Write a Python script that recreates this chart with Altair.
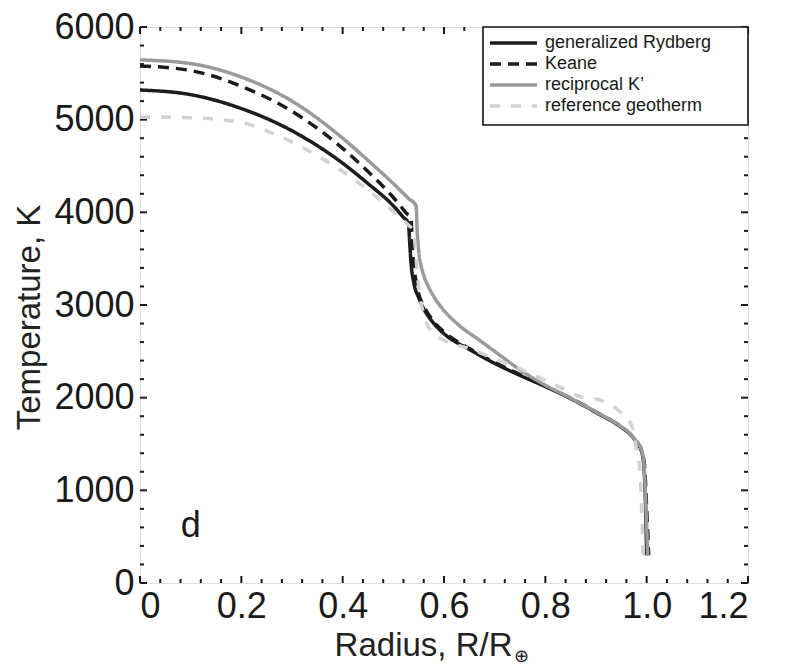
import altair as alt
import pandas as pd

FONT = "Liberation Sans"

series_names = ["generalized Rydberg", "Keane", "reciprocal K\u2019", "reference geotherm"]
series_colors = ["#1c1c1c", "#1c1c1c", "#9a9a9a", "#d2d2d2"]
series_dashes = [[1, 0], [11, 7], [1, 0], [10, 11]]

rydberg_r = [0, 0.1, 0.2, 0.3, 0.4, 0.45, 0.5, 0.52, 0.53, 0.532, 0.535, 0.54, 0.55, 0.56, 0.58,
             0.6, 0.65, 0.7, 0.75, 0.8, 0.85, 0.9, 0.95, 0.97, 0.98, 0.99, 0.995, 0.998, 1.0]
rydberg_T = [5320, 5270, 5120, 4880, 4530, 4310, 4070, 3945, 3880, 3700, 3450, 3250, 3080, 2960, 2800,
             2690, 2520, 2370, 2240, 2120, 1990, 1840, 1680, 1590, 1520, 1420, 1220, 800, 300]

keane_r = [0, 0.1, 0.2, 0.3, 0.4, 0.45, 0.5, 0.525, 0.535, 0.537, 0.54, 0.545, 0.55, 0.56, 0.58,
           0.6, 0.65, 0.7, 0.75, 0.8, 0.85, 0.9, 0.95, 0.97, 0.98, 0.99, 0.996, 1.0, 1.004]
keane_T = [5580, 5530, 5360, 5090, 4690, 4440, 4160, 3995, 3930, 3700, 3450, 3250, 3120, 2990, 2820,
           2710, 2530, 2380, 2250, 2125, 1995, 1845, 1685, 1595, 1525, 1430, 1250, 800, 300]

recip_r = [0, 0.1, 0.2, 0.3, 0.4, 0.45, 0.5, 0.53, 0.545, 0.547, 0.55, 0.555, 0.56, 0.57, 0.58,
           0.6, 0.63, 0.67, 0.71, 0.75, 0.8, 0.85, 0.9, 0.95, 0.97, 0.98, 0.99, 0.995, 0.998, 1.002]
recip_T = [5645, 5605, 5460, 5200, 4800, 4560, 4310, 4150, 4070, 3800, 3580, 3420, 3320, 3190, 3090,
           2940, 2780, 2620, 2460, 2300, 2135, 1995, 1845, 1685, 1595, 1525, 1430, 1260, 900, 300]

ref_r = [0, 0.1, 0.2, 0.25, 0.3, 0.35, 0.4, 0.45, 0.5, 0.53, 0.54, 0.545, 0.55, 0.56, 0.575,
         0.6, 0.65, 0.7, 0.75, 0.795, 0.833, 0.868, 0.908, 0.947, 0.971, 0.98, 0.987, 0.993]
ref_T = [5030, 5020, 4970, 4880, 4760, 4610, 4440, 4240, 4010, 3860, 3800, 3500, 3200, 2900, 2720,
         2620, 2530, 2420, 2310, 2200, 2100, 2010, 1975, 1850, 1690, 1435, 1185, 300]

x_major = [0, 0.2, 0.4, 0.6, 0.8, 1.0, 1.2]
y_major = [0, 1000, 2000, 3000, 4000, 5000, 6000]
x_minor = [round(i * 0.04, 2) for i in range(31) if i % 5 != 0]
y_minor = [i * 200 for i in range(31) if i % 5 != 0]

panel_label = ["d"]
panel_label_r = [0.1]
panel_label_T = [620]

W, H = 608, 556

rows = []
for name, rs, ts in zip(series_names, [rydberg_r, keane_r, recip_r, ref_r],
                        [rydberg_T, keane_T, recip_T, ref_T]):
    for i, (r, t) in enumerate(zip(rs, ts)):
        rows.append({"series": name, "r": r, "T": t, "i": i})
df = pd.DataFrame(rows)

xscale = alt.Scale(domain=[0, 1.2], nice=False, zero=False)
yscale = alt.Scale(domain=[0, 6000], nice=False, zero=False)
color_scale = alt.Scale(domain=series_names, range=series_colors)
dash_scale = alt.Scale(domain=series_names, range=series_dashes)

lines = alt.Chart(df).mark_line(strokeWidth=3.5, interpolate="monotone").encode(
    x=alt.X("r:Q", scale=xscale,
            axis=alt.Axis(values=x_major, labelExpr="datum.value == 0 ? '0' : format(datum.value, '.1f')",
                          ticks=False, tickSize=0, domain=False, grid=False,
                          labelFontSize=36, labelPadding=6, labelColor="#1a1a1a", labelFont=FONT,
                          title="Radius, R/R", titleFont=FONT, titleFontSize=33, titleFontWeight="normal",
                          titleColor="#222222", titleAlign="right", titleX=372, titleY=72,
                          titleBaseline="alphabetic")),
    y=alt.Y("T:Q", scale=yscale,
            axis=alt.Axis(values=y_major, format="d", ticks=False, tickSize=0, domain=False, grid=False,
                          labelFontSize=36, labelPadding=6, labelColor="#1a1a1a", labelFont=FONT,
                          title="Temperature, K", titleFont=FONT, titleFontSize=33, titleFontWeight="normal",
                          titleColor="#222222", titleX=-111, titleY=290, titleAngle=270,
                          titleAlign="center", titleBaseline="middle")),
    color=alt.Color("series:N", scale=color_scale, legend=None),
    strokeDash=alt.StrokeDash("series:N", scale=dash_scale, legend=None),
    detail="series:N",
    order="i:Q",
)

tick_color = "#1a1a1a"

def xticks(vals, length):
    d = pd.DataFrame({"v": vals})
    bottom = alt.Chart(d).mark_rule(color=tick_color, strokeWidth=2).encode(
        x=alt.X("v:Q", scale=xscale), y=alt.value(H), y2=alt.value(H - length))
    top = alt.Chart(d).mark_rule(color=tick_color, strokeWidth=2).encode(
        x=alt.X("v:Q", scale=xscale), y=alt.value(0), y2=alt.value(length))
    return [bottom, top]

def yticks(vals, length):
    d = pd.DataFrame({"v": vals})
    left = alt.Chart(d).mark_rule(color=tick_color, strokeWidth=2).encode(
        y=alt.Y("v:Q", scale=yscale), x=alt.value(0), x2=alt.value(length))
    right = alt.Chart(d).mark_rule(color=tick_color, strokeWidth=2).encode(
        y=alt.Y("v:Q", scale=yscale), x=alt.value(W), x2=alt.value(W - length))
    return [left, right]

tick_layers = xticks(x_major, 7) + xticks(x_minor, 4) + yticks(y_major, 7) + yticks(y_minor, 4)

label_df = pd.DataFrame({"t": panel_label, "r": panel_label_r, "T": panel_label_T})
panel = alt.Chart(label_df).mark_text(fontSize=36, font=FONT, color="#1a1a1a",
                                      align="center", baseline="middle").encode(
    x=alt.X("r:Q", scale=xscale), y=alt.Y("T:Q", scale=yscale), text="t:N")

subscript = alt.Chart(pd.DataFrame({"s": ["\u2295"]})).mark_text(
    fontSize=18, font="DejaVu Sans", color="#222222", align="left", baseline="middle").encode(
    x=alt.value(374), y=alt.value(H + 74), text="s:N")

# legend box (MATLAB style, top-right inside the axes)
LEG_X0, LEG_X1, LEG_Y0, LEG_Y1 = 343, W, 0, 98
legend_rows = [16, 37, 58, 79]
legend_layers = [
    alt.Chart(pd.DataFrame({"k": [0]})).mark_rect(fill="white", stroke="#111111", strokeWidth=1.6).encode(
        x=alt.value(LEG_X0), x2=alt.value(LEG_X1), y=alt.value(LEG_Y0), y2=alt.value(LEG_Y1))
]
for name, ry in zip(series_names, legend_rows):
    d = pd.DataFrame({"series": [name]})
    legend_layers.append(
        alt.Chart(d).mark_rule(strokeWidth=3.5).encode(
            x=alt.value(LEG_X0 + 7), x2=alt.value(LEG_X0 + 54), y=alt.value(ry),
            color=alt.Color("series:N", scale=color_scale, legend=None),
            strokeDash=alt.StrokeDash("series:N", scale=dash_scale, legend=None)))
    legend_layers.append(
        alt.Chart(d).mark_text(fontSize=18, font=FONT, color="#1a1a1a", align="left",
                               baseline="middle").encode(
            x=alt.value(LEG_X0 + 62), y=alt.value(ry), text="series:N"))

chart = alt.layer(*tick_layers, lines, panel, subscript, *legend_layers).properties(
    width=W, height=H,
    autosize=alt.AutoSizeParams(type="none"),
    padding={"left": 132, "top": 19, "right": 30, "bottom": 84},
).configure_view(stroke="#1a1a1a", strokeWidth=2.5).configure(background="white")

chart.save("out.html", embed_options={"renderer": "svg", "actions": False})
